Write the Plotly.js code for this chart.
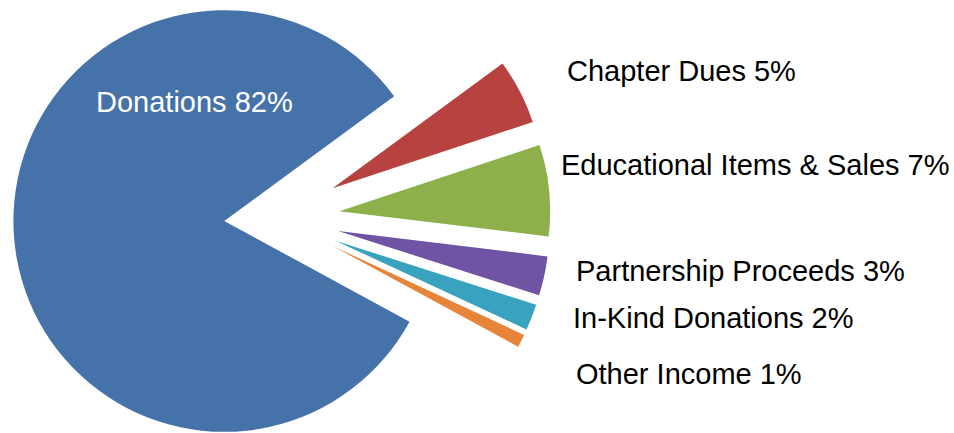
<!DOCTYPE html>
<html><head><meta charset="utf-8">
<script src="https://cdn.plot.ly/plotly-3.0.1.min.js"></script>
<style>
html,body{margin:0;padding:0;overflow:hidden;width:954px;height:433px;background:#fff;}
#wrap{position:relative;width:954px;height:433px;overflow:hidden;}
#chart{position:absolute;left:0;top:-57.5px;width:954px;height:549px;}
</style></head>
<body><div id="wrap"><div id="chart"></div></div>
<script>
// ---- data ----
const labels = ["Donations", "Chapter Dues", "Educational Items & Sales", "Partnership Proceeds", "In-Kind Donations", "Other Income"];
const values = [82, 5, 7, 3, 2, 1];

// ---- styles / layout ----
const colors = ["#4672AA", "#B7423F", "#8DB04A", "#7053A2", "#39A2BF", "#E6843A"];
const pulls = [0.246, 0.302, 0.302, 0.302, 0.302, 0.302];
const labelLeft = [94, 565, 559, 574, 571, 574];   // px, window coords
const labelMid  = [101, 71, 165, 270, 317, 373];
const labelColor = ["#FFFFFF", "#000000", "#000000", "#000000", "#000000", "#000000"];

const W = 954, H = 549, TOP = -57.5;
const toX = px => px / W;
const toY = py => 1 - (py - TOP) / H;

const annotations = labels.map((lab, i) => ({
  text: lab + " " + values[i] + "%",
  xref: "paper", yref: "paper",
  x: toX(labelLeft[i]), y: toY(labelMid[i]),
  xanchor: "left", yanchor: "middle",
  showarrow: false,
  font: {family: "Liberation Sans, Arial, sans-serif", size: 29, color: labelColor[i]}
}));

const trace = {
  type: "pie",
  labels: labels,
  values: values,
  sort: false,
  direction: "clockwise",
  rotation: 118.5,
  pull: pulls,
  marker: {colors: colors, line: {width: 0}},
  textinfo: "none",
  hoverinfo: "label+percent",
  showlegend: false,
  domain: {x: [0, 0.5786], y: [0, 1]}
};

Plotly.newPlot("chart", [trace], {
  width: W, height: H,
  margin: {l: 0, r: 0, t: 0, b: 0},
  paper_bgcolor: "#FFFFFF",
  showlegend: false,
  annotations: annotations
}, {displayModeBar: false, staticPlot: true});
</script>
</body></html>
